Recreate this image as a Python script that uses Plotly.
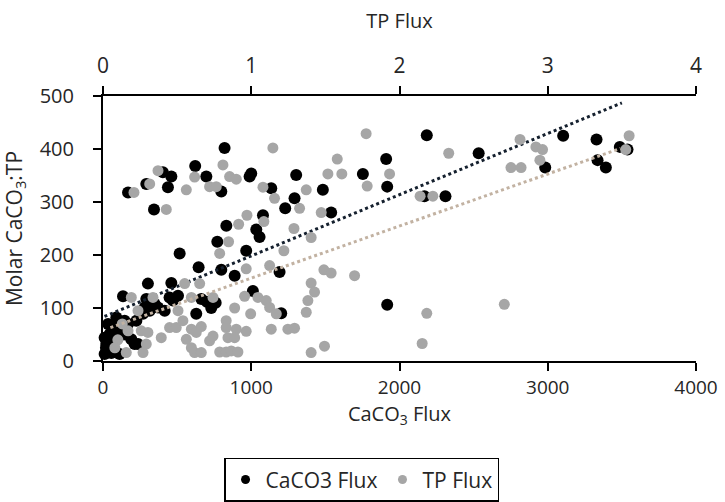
import plotly.graph_objects as go

# CaCO3 Flux series (bottom axis)
caco3_x = [820, 622, 461, 404, 169, 292, 438, 697, 798, 989, 1000, 1135, 1303, 1483, 1753,
           1910, 1917, 344, 1292, 1229, 1539, 832, 1079, 1034, 1056, 771, 966, 517, 645, 798,
           888, 1191, 1011, 1202, 1917, 135, 303, 461, 416, 629, 700, 730, 760, 663, 236,
           2184, 2534, 2168, 2310, 2983, 3104, 3329, 3336, 3392, 3486, 3538,
           11, 34, 56, 22, 79, 45, 101, 67, 124, 146, 90, 34, 169, 191, 213, 11, 56, 112,
           270, 225, 281, 315, 348, 371, 472, 506, 449, 292, 20, 45, 80, 150, 95]
caco3_y = [402, 368, 348, 356, 318, 334, 328, 348, 320, 348, 354, 326, 351, 323, 353,
           381, 329, 286, 307, 288, 280, 255, 275, 248, 234, 225, 208, 203, 177, 172,
           161, 168, 132, 90, 106, 122, 146, 147, 95, 89, 112, 100, 110, 117, 32,
           426, 392, 311, 311, 365, 425, 418, 379, 365, 404, 399,
           13, 19, 25, 32, 38, 51, 44, 63, 57, 76, 82, 70, 70, 41, 32, 44, 15, 13,
           89, 76, 101, 95, 108, 101, 114, 123, 120, 117, 25, 30, 20, 50, 60]

# TP Flux series (top axis)
tp_x = [1.775, 1.146, 1.580, 1.517, 1.611, 1.933, 1.782, 0.371, 0.618, 0.809, 0.854, 0.899,
        0.315, 0.209, 0.562, 0.719, 0.764, 1.079, 1.157, 1.371, 0.427, 0.971, 1.326, 1.288,
        0.915, 1.085, 1.472, 1.404, 0.847, 1.220, 0.787, 1.124, 0.966, 1.490, 1.539, 1.697,
        1.404, 1.427, 1.382, 1.371, 0.955, 1.045, 1.101, 1.124, 1.169, 0.888, 0.996, 0.966,
        0.899, 1.135, 1.247, 1.292, 0.831, 0.831, 0.843, 0.888, 0.719, 0.742, 1.404, 1.494,
        0.787, 0.831, 0.865, 0.910, 0.618, 0.596, 0.663, 0.562, 0.449, 0.494, 0.539, 0.596,
        0.629, 0.663, 0.393, 0.292, 0.270, 0.157, 0.169, 0.258, 0.303, 0.236, 0.337, 0.191,
        0.506, 0.551, 0.652, 0.596, 0.742, 0.10, 0.13, 0.08,
        2.139, 2.225, 2.332, 2.184, 2.153, 2.707, 2.813, 2.752, 2.820, 2.920, 2.965, 2.947,
        3.549, 3.526]
tp_y = [429, 402, 381, 353, 353, 353, 330, 359, 347, 370, 348, 343,
        334, 318, 323, 329, 329, 328, 307, 323, 286, 275, 288, 250,
        258, 263, 280, 233, 225, 208, 203, 180, 174, 172, 166, 161,
        147, 130, 114, 92, 122, 120, 114, 101, 89, 100, 89, 56,
        60, 60, 60, 62, 76, 63, 44, 44, 38, 47, 16, 28,
        17, 17, 19, 17, 16, 25, 16, 41, 63, 63, 76, 60,
        54, 65, 44, 32, 16, 16, 57, 57, 54, 95, 120, 120,
        95, 146, 146, 120, 120, 40, 70, 25,
        311, 311, 392, 90, 33, 107, 418, 365, 365, 404, 399, 379,
        425, 399]

# Linear trendline end points
caco3_trend_x = [10, 3500]
caco3_trend_y = [84, 487]
tp_trend_x = [0.05, 3.49]
tp_trend_y = [63, 401]

x_ticks = [0, 1000, 2000, 3000, 4000]
x2_ticks = [0, 1, 2, 3, 4]
y_ticks = [0, 100, 200, 300, 400, 500]

FONT = "Open Sans, Liberation Sans, sans-serif"
BLACK = "#000000"
GREY = "#a6a6a6"

fig = go.Figure()
fig.add_trace(go.Scatter(x=tp_x, y=tp_y, mode="markers", name="TP Flux", xaxis="x2",
                         marker=dict(color=GREY, size=11), cliponaxis=False,
                         showlegend=False, legendgroup="tp"))
fig.add_trace(go.Scatter(x=caco3_x, y=caco3_y, mode="markers", name="CaCO3 Flux",
                         marker=dict(color=BLACK, size=12), cliponaxis=False,
                         showlegend=False, legendgroup="ca"))
fig.add_trace(go.Scatter(x=caco3_trend_x, y=caco3_trend_y, mode="lines", showlegend=False,
                         line=dict(color="#15202e", width=3, dash="dot"), hoverinfo="skip"))
fig.add_trace(go.Scatter(x=tp_trend_x, y=tp_trend_y, mode="lines", showlegend=False, xaxis="x2",
                         line=dict(color="#c2b2a2", width=3, dash="dot"), hoverinfo="skip"))
# legend entries (smaller symbols, as in the reference legend)
fig.add_trace(go.Scatter(x=[None], y=[None], mode="markers", name="CaCO3 Flux",
                         marker=dict(color=BLACK, size=9), legendgroup="ca", legendrank=1))
fig.add_trace(go.Scatter(x=[None], y=[None], mode="markers", name="TP Flux", xaxis="x2",
                         marker=dict(color=GREY, size=9), legendgroup="tp", legendrank=2))

axis_common = dict(showgrid=False, zeroline=False, showline=True, linecolor="black",
                   linewidth=2, tickcolor="black", tickwidth=2, ticklen=8, automargin=False)

fig.update_layout(
    width=725, height=502,
    paper_bgcolor="white", plot_bgcolor="white",
    margin=dict(l=103, r=29, t=96, b=141),
    font=dict(family=FONT, size=20, color="#262626"),
    xaxis=dict(range=[0, 4000], tickvals=x_ticks, ticks="outside", side="bottom",
               ticklabelstandoff=0, tickfont=dict(size=19),
               title=dict(text="CaCO<sub>3</sub> Flux", font=dict(size=20), standoff=6),
               **axis_common),
    xaxis2=dict(range=[0, 4], tickvals=x2_ticks, ticks="outside", side="top",
                overlaying="x", anchor="y", ticklabelstandoff=5, tickfont=dict(size=21),
                title=dict(text="TP Flux", font=dict(size=20), standoff=17),
                **axis_common),
    xaxis3=dict(range=[0, 4000], tickvals=x_ticks, ticks="inside", side="bottom",
                overlaying="x", anchor="y", showticklabels=False, **axis_common),
    xaxis4=dict(range=[0, 4], tickvals=x2_ticks, ticks="inside", side="top",
                overlaying="x", anchor="y", showticklabels=False, **axis_common),
    yaxis=dict(range=[0, 500], tickvals=y_ticks, ticks="outside", ticklabelstandoff=15,
               title=dict(text="Molar CaCO<sub>3</sub>:TP", font=dict(size=21), standoff=14),
               **axis_common),
    yaxis2=dict(range=[0, 500], tickvals=y_ticks, ticks="inside", overlaying="y",
                anchor="x", showticklabels=False, **axis_common),
    legend=dict(orientation="h", x=0.436, xref="paper", y=0.088, yref="container",
                xanchor="center", yanchor="top",
                bordercolor="black", borderwidth=1.5, bgcolor="white",
                font=dict(size=21), itemsizing="trace", traceorder="normal"),
    showlegend=True,
)

fig.write_html("out.html", config={"displayModeBar": False},
               post_script="document.body.style.margin='0';")
